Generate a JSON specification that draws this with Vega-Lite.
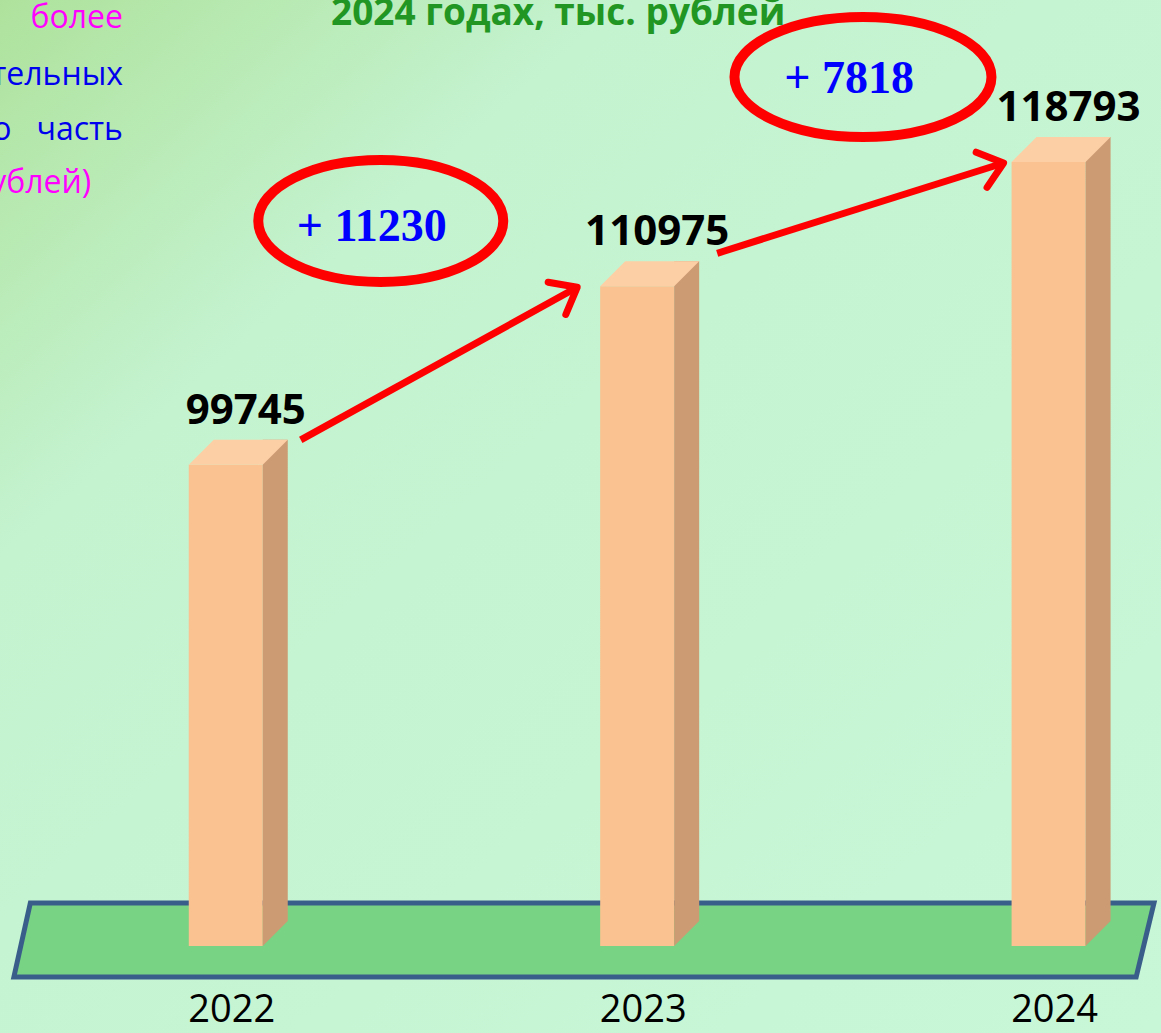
{
  "$schema": "https://vega.github.io/schema/vega-lite/v6.json",
  "width": 1161,
  "height": 1033,
  "autosize": {"type": "none"},
  "padding": 0,
  "background": "#c6f6d5",
  "config": {
    "view": {
      "stroke": null,
      "fill": {"gradient": "linear", "x1": 0, "y1": 0, "x2": 1, "y2": 1,
        "stops": [{"offset": 0, "color": "#aee29c"}, {"offset": 0.27, "color": "#c4f3d0"}, {"offset": 1, "color": "#c8f7d8"}]}
    },
    "text": {"font": "Open Sans"}
  },
  "datasets": {
    "revenue": [
      {"year": 2022, "value": 99745},
      {"year": 2023, "value": 110975},
      {"year": 2024, "value": 118793}
    ],
    "changes": [
      {"from": 2022, "to": 2023, "v0": 99745, "v1": 110975, "label": "+ 11230"},
      {"from": 2023, "to": 2024, "v0": 110975, "v1": 118793, "label": "+ 7818"}
    ],
    "ground": [
      {"gx": 2021.485, "gy": 67535, "gy2": 67535},
      {"gx": 2021.525, "gy": 72189, "gy2": 67535},
      {"gx": 2024.2129, "gy": 72189, "gy2": 67535},
      {"gx": 2024.2562, "gy": 72189, "gy2": 72189}
    ]
  },
  "layer": [
    {
      "data": {"name": "ground"},
      "mark": {"type": "area", "orient": "vertical", "interpolate": "linear", "color": "#78d384", "stroke": "#3a5e8a", "strokeWidth": 5, "opacity": 1, "strokeJoin": "miter"},
      "encoding": {
        "x": {"field": "gx", "type": "quantitative", "axis": null, "scale": {"domain": [2021.4634, 2024.2611], "nice": false, "zero": false}},
        "y": {"field": "gy", "type": "quantitative", "axis": null, "scale": {"domain": [64013, 128982], "nice": false, "zero": false}},
        "y2": {"field": "gy2"}
      }
    },
    {
      "data": {"name": "revenue"},
      "layer": [
        {
          "mark": {"type": "bar", "orient": "vertical", "width": 74, "color": "#f9c290"},
          "encoding": {
            "x": {"field": "year", "type": "quantitative"},
            "y": {"field": "value", "type": "quantitative"},
            "y2": {"datum": 69480}
          }
        },
        {
          "mark": {"type": "bar", "orient": "vertical", "width": 25, "color": "#cc9b73", "xOffset": 49.5, "yOffset": -25, "y2Offset": -25},
          "encoding": {
            "x": {"field": "year", "type": "quantitative"},
            "y": {"field": "value", "type": "quantitative"},
            "y2": {"datum": 69480}
          }
        },
        {
          "mark": {"type": "point", "shape": "M-1,-1 L1,-1 L-1,1 Z", "size": 625, "filled": true, "color": "#cc9b73", "opacity": 1, "strokeWidth": 0, "xOffset": 49.5, "yOffset": -12.5},
          "encoding": {
            "x": {"field": "year", "type": "quantitative"},
            "y": {"datum": 69480, "type": "quantitative"}
          }
        },
        {
          "mark": {"type": "point", "shape": "M-1,0.2525 L-0.4949,-0.2525 L1,-0.2525 L0.4949,0.2525 Z", "size": 9801, "filled": true, "color": "#fdcfa5", "opacity": 1, "strokeWidth": 0, "xOffset": 12.5, "yOffset": -12.5},
          "encoding": {
            "x": {"field": "year", "type": "quantitative"},
            "y": {"field": "value", "type": "quantitative"}
          }
        },
        {
          "mark": {"type": "text", "font": "Open Sans", "fontWeight": "bold", "fontSize": 42, "color": "#000000", "align": "center", "baseline": "alphabetic", "dx": 20, "dy": -41},
          "encoding": {
            "x": {"field": "year", "type": "quantitative"},
            "y": {"field": "value", "type": "quantitative"},
            "text": {"field": "value", "type": "quantitative", "format": "d"}
          }
        },
        {
          "mark": {"type": "text", "font": "Open Sans", "fontSize": 38, "color": "#000000", "align": "center", "baseline": "alphabetic", "dx": 6},
          "encoding": {
            "x": {"field": "year", "type": "quantitative"},
            "y": {"datum": 64700, "type": "quantitative"},
            "text": {"field": "year", "type": "nominal"}
          }
        }
      ]
    },
    {
      "data": {"name": "changes"},
      "transform": [{"filter": "datum.from == 2022"}],
      "layer": [
        {
          "mark": {"type": "rule", "color": "#ff0000", "strokeWidth": 7, "xOffset": 75, "yOffset": -25, "x2Offset": -60, "y2Offset": 1},
          "encoding": {
            "x": {"field": "from", "type": "quantitative"},
            "y": {"field": "v0", "type": "quantitative"},
            "x2": {"field": "to"},
            "y2": {"field": "v1"}
          }
        },
        {
          "mark": {"type": "point", "shape": "M-1,-0.8 L0,0 L-1,0.8", "size": 2116, "filled": false, "stroke": "#ff0000", "strokeWidth": 7, "opacity": 1, "angle": -28.65, "xOffset": -60, "yOffset": 1, "strokeJoin": "round", "strokeCap": "round"},
          "encoding": {
            "x": {"field": "to", "type": "quantitative"},
            "y": {"field": "v1", "type": "quantitative"}
          }
        },
        {
          "mark": {"type": "point", "shape": "M1,0 C1,0.275 0.552,0.498 0,0.498 C-0.552,0.498 -1,0.275 -1,0 C-1,-0.275 -0.552,-0.498 0,-0.498 C0.552,-0.498 1,-0.275 1,0 Z", "size": 60025, "filled": false, "stroke": "#ff0000", "strokeWidth": 10, "opacity": 1, "xOffset": 155, "yOffset": -65.3},
          "encoding": {
            "x": {"field": "from", "type": "quantitative"},
            "y": {"field": "v1", "type": "quantitative"}
          }
        },
        {
          "mark": {"type": "text", "font": "Liberation Serif", "fontWeight": "bold", "fontSize": 46, "color": "#0000ff", "align": "center", "baseline": "alphabetic", "dx": 146, "dy": -45},
          "encoding": {
            "x": {"field": "from", "type": "quantitative"},
            "y": {"field": "v1", "type": "quantitative"},
            "text": {"field": "label", "type": "nominal"}
          }
        }
      ]
    },
    {
      "data": {"name": "changes"},
      "transform": [{"filter": "datum.from == 2023"}],
      "layer": [
        {
          "mark": {"type": "rule", "color": "#ff0000", "strokeWidth": 7, "xOffset": 80, "yOffset": -33, "x2Offset": -45, "y2Offset": 1},
          "encoding": {
            "x": {"field": "from", "type": "quantitative"},
            "y": {"field": "v0", "type": "quantitative"},
            "x2": {"field": "to"},
            "y2": {"field": "v1"}
          }
        },
        {
          "mark": {"type": "point", "shape": "M-1,-0.8 L0,0 L-1,0.8", "size": 2116, "filled": false, "stroke": "#ff0000", "strokeWidth": 7, "opacity": 1, "angle": -17.2, "xOffset": -45, "yOffset": 1, "strokeJoin": "round", "strokeCap": "round"},
          "encoding": {
            "x": {"field": "to", "type": "quantitative"},
            "y": {"field": "v1", "type": "quantitative"}
          }
        },
        {
          "mark": {"type": "point", "shape": "M1,0 C1,0.258 0.552,0.467 0,0.467 C-0.552,0.467 -1,0.258 -1,0 C-1,-0.258 -0.552,-0.467 0,-0.467 C0.552,-0.467 1,-0.258 1,0 Z", "size": 66049, "filled": false, "stroke": "#ff0000", "strokeWidth": 10, "opacity": 1, "xOffset": 225.8, "yOffset": -85},
          "encoding": {
            "x": {"field": "from", "type": "quantitative"},
            "y": {"field": "v1", "type": "quantitative"}
          }
        },
        {
          "mark": {"type": "text", "font": "Liberation Serif", "fontWeight": "bold", "fontSize": 46, "color": "#0000ff", "align": "center", "baseline": "alphabetic", "dx": 212, "dy": -69},
          "encoding": {
            "x": {"field": "from", "type": "quantitative"},
            "y": {"field": "v1", "type": "quantitative"},
            "text": {"field": "label", "type": "nominal"}
          }
        }
      ]
    },
    {
      "data": {"values": [{"t": "2024 годах, тыс. рублей"}]},
      "mark": {"type": "text", "font": "Open Sans", "fontWeight": "bold", "fontSize": 37, "color": "#229622", "align": "center", "baseline": "alphabetic"},
      "encoding": {
        "x": {"datum": 2022.808, "type": "quantitative"},
        "y": {"datum": 127410, "type": "quantitative"},
        "text": {"field": "t", "type": "nominal"}
      }
    },
    {
      "data": {"values": [{"t": "более"}]},
      "mark": {"type": "text", "font": "Open Sans", "fontSize": 32, "color": "#ff00ff", "align": "right", "baseline": "alphabetic"},
      "encoding": {
        "x": {"datum": 2021.7502, "type": "quantitative"},
        "y": {"datum": 127221, "type": "quantitative"},
        "text": {"field": "t", "type": "nominal"}
      }
    },
    {
      "data": {"values": [{"t": "значительных"}]},
      "mark": {"type": "text", "font": "Open Sans", "fontSize": 32, "color": "#0000ee", "align": "right", "baseline": "alphabetic"},
      "encoding": {
        "x": {"datum": 2021.7502, "type": "quantitative"},
        "y": {"datum": 123636, "type": "quantitative"},
        "text": {"field": "t", "type": "nominal"}
      }
    },
    {
      "data": {"values": [{"t": "это\u00a0\u00a0\u00a0часть"}]},
      "mark": {"type": "text", "font": "Open Sans", "fontSize": 32, "color": "#0000ee", "align": "right", "baseline": "alphabetic"},
      "encoding": {
        "x": {"datum": 2021.7502, "type": "quantitative"},
        "y": {"datum": 120177, "type": "quantitative"},
        "text": {"field": "t", "type": "nominal"}
      }
    },
    {
      "data": {"values": [{"t": "(тыс. рублей)"}]},
      "mark": {"type": "text", "font": "Open Sans", "fontSize": 32, "color": "#ff00ff", "align": "right", "baseline": "alphabetic"},
      "encoding": {
        "x": {"datum": 2021.6731, "type": "quantitative"},
        "y": {"datum": 116843, "type": "quantitative"},
        "text": {"field": "t", "type": "nominal"}
      }
    }
  ]
}
